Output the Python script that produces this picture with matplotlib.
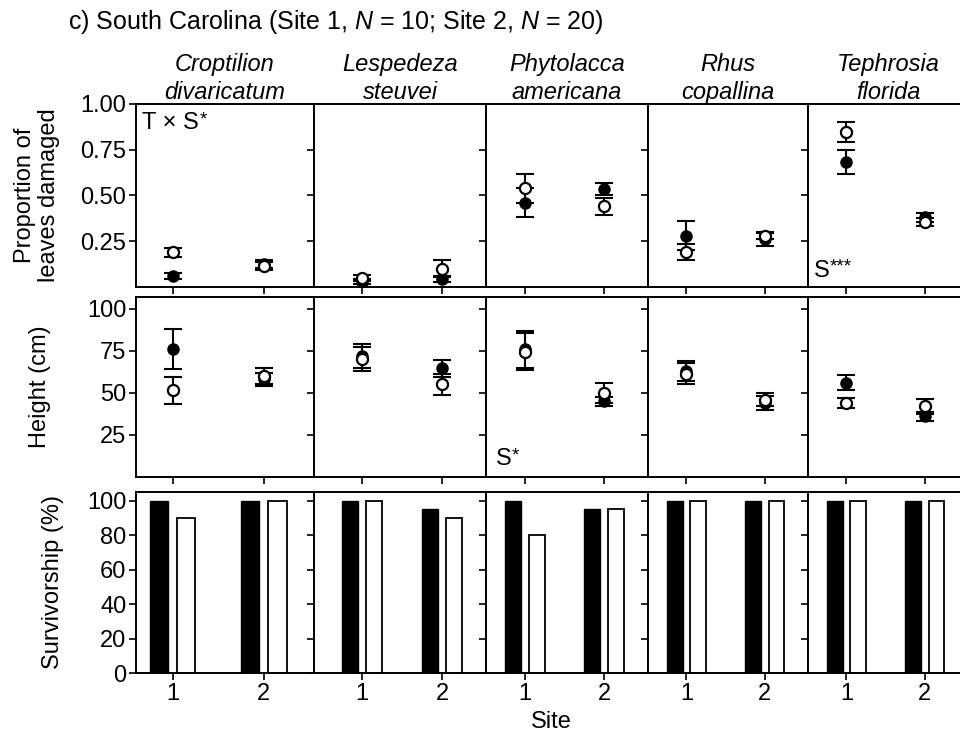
import numpy as np
import matplotlib
matplotlib.use('Agg')
import matplotlib.pyplot as plt

plt.rcParams['font.family'] = ['Liberation Sans', 'DejaVu Sans']
plt.rcParams['mathtext.fontset'] = 'custom'
plt.rcParams['mathtext.rm'] = 'Liberation Sans'
plt.rcParams['mathtext.it'] = 'Liberation Sans:italic'

# data
species = ['Croptilion\ndivaricatum', 'Lespedeza\nsteuvei', 'Phytolacca\namericana',
           'Rhus\ncopallina', 'Tephrosia\nflorida']
sites = [1, 2]

damage_filled = [[0.06, 0.125], [0.03, 0.045], [0.46, 0.535], [0.28, 0.26], [0.685, 0.38]]
damage_filled_err = [[0.015, 0.02], [0.015, 0.015], [0.08, 0.035], [0.08, 0.035], [0.065, 0.025]]
damage_open = [[0.19, 0.115], [0.05, 0.10], [0.54, 0.44], [0.19, 0.28], [0.845, 0.355]]
damage_open_err = [[0.025, 0.02], [0.015, 0.045], [0.08, 0.045], [0.045, 0.02], [0.055, 0.02]]

height_filled = [[76, 58], [72, 64.5], [76, 45], [63, 44], [56, 36]]
height_filled_err = [[12, 4], [7, 5], [11, 2.5], [6, 4], [4.5, 2.5]]
height_open = [[51.5, 60], [70, 55], [74.5, 50], [61.5, 46], [44, 42]]
height_open_err = [[8, 5], [7, 6], [11, 6], [6.5, 4], [3, 4.5]]

surv_filled = [[100, 100], [100, 95], [100, 95], [100, 100], [100, 100]]
surv_open = [[90, 100], [100, 90], [80, 95], [100, 100], [100, 100]]

W, H = 960., 734.
fig = plt.figure(figsize=(9.6, 7.34), dpi=100)

col_edges = [136, 314, 486, 648, 808, 968]
x_left = [0.60, 0.40, 0.51, 0.51, 0.51]
rows = [(104, 287), (297, 477), (492, 673)]
FS = 17

def style(ax, i, bottom):
    for s in ax.spines.values():
        s.set_linewidth(1.4)
    ax.tick_params(direction='out', length=5, width=1.2, labelsize=FS, pad=2)
    ax.set_xlim(x_left[i], 2.55)
    ax.set_xticks(sites)
    if not bottom:
        ax.set_xticklabels([])
    if i != 0:
        ax.set_yticklabels([])

def stars(ax, xa, ya, n, va):
    s = ax.text(xa, ya, 'S', transform=ax.transAxes, fontsize=FS, ha='left', va=va)
    ax.annotate('*' * n, xy=(1, 1), xycoords=s, xytext=(0.5, 0.5), textcoords='offset points',
                fontsize=FS * 0.8, ha='left', va='top')
    return s

x = np.array(sites)
for i in range(5):
    l = col_edges[i] / W
    w = (col_edges[i + 1] - col_edges[i]) / W
    axes = []
    for (t, b) in rows:
        axes.append(fig.add_axes([l, 1 - b / H, w, (b - t) / H]))
    a1, a2, a3 = axes

    # damage and height: mean +/- error, filled then open on top
    for ax, fv, fe, ov, oe in [(a1, damage_filled[i], damage_filled_err[i], damage_open[i], damage_open_err[i]),
                               (a2, height_filled[i], height_filled_err[i], height_open[i], height_open_err[i])]:
        ax.errorbar(x, fv, yerr=fe, fmt='none', ecolor='black', elinewidth=1.5,
                    capsize=6.5, capthick=1.5, zorder=2)
        ax.errorbar(x, ov, yerr=oe, fmt='none', ecolor='black', elinewidth=1.5,
                    capsize=6.5, capthick=1.5, zorder=2)
        ax.plot(x, fv, 'o', color='black', markersize=8, zorder=3)
        ax.plot(x, ov, 'o', markerfacecolor='white', markeredgecolor='black',
                markeredgewidth=1.6, markersize=8, zorder=4)

    a1.set_ylim(0, 1.0)
    a1.set_yticks([0.25, 0.5, 0.75, 1.0])
    a1.set_yticklabels(['0.25', '0.50', '0.75', '1.00'])
    a2.set_ylim(0, 107)
    a2.set_yticks([25, 50, 75, 100])

    bw = 0.2
    a3.bar(x - 0.15, surv_filled[i], width=bw, color='black', edgecolor='black', linewidth=1)
    a3.bar(x + 0.15, surv_open[i], width=bw, color='white', edgecolor='black', linewidth=1.3)
    a3.set_ylim(0, 105)
    a3.set_yticks([0, 20, 40, 60, 80, 100])

    style(a1, i, False)
    style(a2, i, False)
    style(a3, i, True)

    a1.set_title(species[i], fontsize=FS, style='italic', pad=2, linespacing=1.3)

    if i == 0:
        t = a1.text(0.035, 0.955, 'T \u00d7 ', transform=a1.transAxes, fontsize=FS,
                    ha='left', va='top')
        s = a1.annotate('S', xy=(1, 0), xycoords=t, fontsize=FS, ha='left', va='bottom')
        a1.annotate('*', xy=(1, 1), xycoords=s, xytext=(0.5, 0.5), textcoords='offset points',
                    fontsize=FS * 0.8, ha='left', va='top')
    if i == 2:
        stars(a2, 0.06, 0.04, 1, 'bottom')
    if i == 4:
        stars(a1, 0.035, 0.03, 3, 'bottom')

fig.text(37 / W, 1 - 195 / H, 'Proportion of\nleaves damaged', rotation=90, fontsize=FS,
         ha='center', va='center', multialignment='center', linespacing=1.1)
fig.text(40 / W, 1 - 387 / H, 'Height (cm)', rotation=90, fontsize=FS, ha='center', va='center')
fig.text(53 / W, 1 - 582 / H, 'Survivorship (%)', rotation=90, fontsize=FS, ha='center', va='center')
fig.text(551 / W, 1 - 722 / H, 'Site', fontsize=FS, ha='center', va='center')
fig.text(68 / W, 1 - 29 / H, r'c) South Carolina (Site 1, $N$ = 10; Site 2, $N$ = 20)',
         fontsize=18, ha='left', va='baseline')

fig.savefig('out.png', dpi=100)
